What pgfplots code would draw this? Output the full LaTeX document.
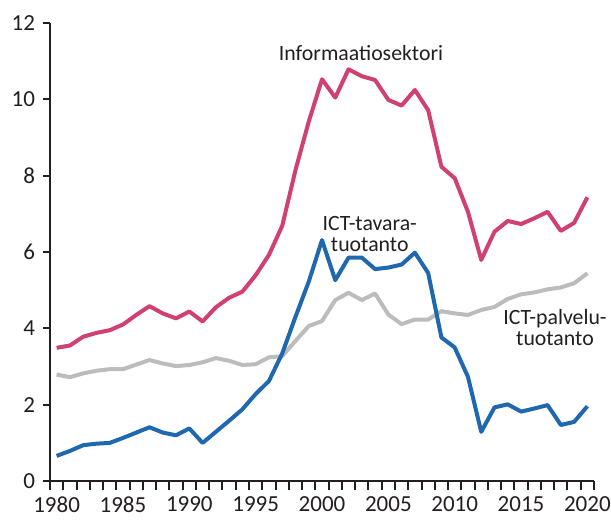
\documentclass[border=0pt]{standalone}
\usepackage{pgfplots}
\pgfplotsset{compat=1.18}
\usepackage{fontspec}
\setmainfont{Carlito}
\usetikzlibrary{calc}
\definecolor{pinkc}{RGB}{208,65,111}
\definecolor{bluec}{RGB}{31,103,174}
\definecolor{grayc}{RGB}{188,188,188}
\definecolor{textc}{RGB}{35,31,32}
\begin{document}
\begin{tikzpicture}
\begin{axis}[
  scale only axis, width=272pt, height=229.2pt,
  xmin=1979.5, xmax=2020.5, ymin=0, ymax=12,
  axis x line*=bottom, axis y line*=left,
  axis line style={line width=1.2pt, color=textc},
  xtick={1980,1985,...,2020},
  minor xtick={1979.5,1980.5,...,2020.5},
  ytick={0,2,...,12},
  tick align=outside,
  major tick length=3.5pt, minor tick length=4.5pt,
  major x tick style={draw=none},
  minor x tick style={line width=1pt, color=textc},
  major y tick style={line width=1pt, color=textc},
  tick label style={font=\fontsize{11.5}{13}\selectfont, text=textc},
  xticklabel style={yshift=-3pt, inner sep=1pt},
  yticklabel style={xshift=-0.5pt},
  /pgf/number format/assume math mode=true,
  /pgf/number format/1000 sep={},
  clip=false,
]
\addplot[grayc, line width=2pt, line join=round] coordinates {
(1980,2.79)(1981,2.72)(1982,2.82)(1983,2.89)(1984,2.93)(1985,2.93)(1986,3.05)(1987,3.17)(1988,3.08)(1989,3.01)
(1990,3.04)(1991,3.11)(1992,3.22)(1993,3.15)(1994,3.04)(1995,3.06)(1996,3.24)(1997,3.27)(1998,3.67)(1999,4.06)
(2000,4.19)(2001,4.74)(2002,4.93)(2003,4.74)(2004,4.91)(2005,4.36)(2006,4.11)(2007,4.23)(2008,4.23)(2009,4.45)
(2010,4.39)(2011,4.35)(2012,4.48)(2013,4.56)(2014,4.77)(2015,4.89)(2016,4.94)(2017,5.02)(2018,5.07)(2019,5.18)(2020,5.44)};
\addplot[pinkc, line width=2pt, line join=round] coordinates {
(1980,3.49)(1981,3.55)(1982,3.78)(1983,3.88)(1984,3.95)(1985,4.10)(1986,4.35)(1987,4.58)(1988,4.39)(1989,4.26)
(1990,4.44)(1991,4.18)(1992,4.55)(1993,4.80)(1994,4.96)(1995,5.39)(1996,5.92)(1997,6.68)(1998,8.14)(1999,9.41)
(2000,10.52)(2001,10.04)(2002,10.78)(2003,10.60)(2004,10.50)(2005,9.98)(2006,9.83)(2007,10.24)(2008,9.71)(2009,8.23)
(2010,7.93)(2011,7.05)(2012,5.79)(2013,6.53)(2014,6.81)(2015,6.73)(2016,6.88)(2017,7.05)(2018,6.55)(2019,6.76)(2020,7.43)};
\addplot[bluec, line width=2pt, line join=round] coordinates {
(1980,0.66)(1981,0.79)(1982,0.94)(1983,0.98)(1984,1.00)(1985,1.13)(1986,1.27)(1987,1.41)(1988,1.27)(1989,1.20)
(1990,1.38)(1991,1.00)(1992,1.29)(1993,1.58)(1994,1.88)(1995,2.28)(1996,2.62)(1997,3.34)(1998,4.30)(1999,5.22)
(2000,6.31)(2001,5.26)(2002,5.85)(2003,5.85)(2004,5.55)(2005,5.59)(2006,5.67)(2007,5.98)(2008,5.45)(2009,3.76)
(2010,3.50)(2011,2.73)(2012,1.29)(2013,1.93)(2014,2.01)(2015,1.82)(2016,1.90)(2017,1.99)(2018,1.47)(2019,1.55)(2020,1.96)};
\node[font=\fontsize{10.9}{10.4}\selectfont, text=textc] at (axis cs:2002.94,11.21) {Informaatiosektori};
\node[font=\fontsize{10.9}{10.4}\selectfont, text=textc, align=center] at (axis cs:2003.6,6.47) {ICT-tavara-\\tuotanto};
\node[font=\fontsize{10.9}{10.4}\selectfont, text=textc, align=center] at (axis cs:2017.56,4.02) {ICT-palvelu-\\tuotanto};
\end{axis}
\pgfresetboundingbox
\useasboundingbox ($(current axis.south west)+(-25pt,-20pt)$) rectangle ($(current axis.north east)+(8.5pt,11.35pt)$);
\end{tikzpicture}
\end{document}
